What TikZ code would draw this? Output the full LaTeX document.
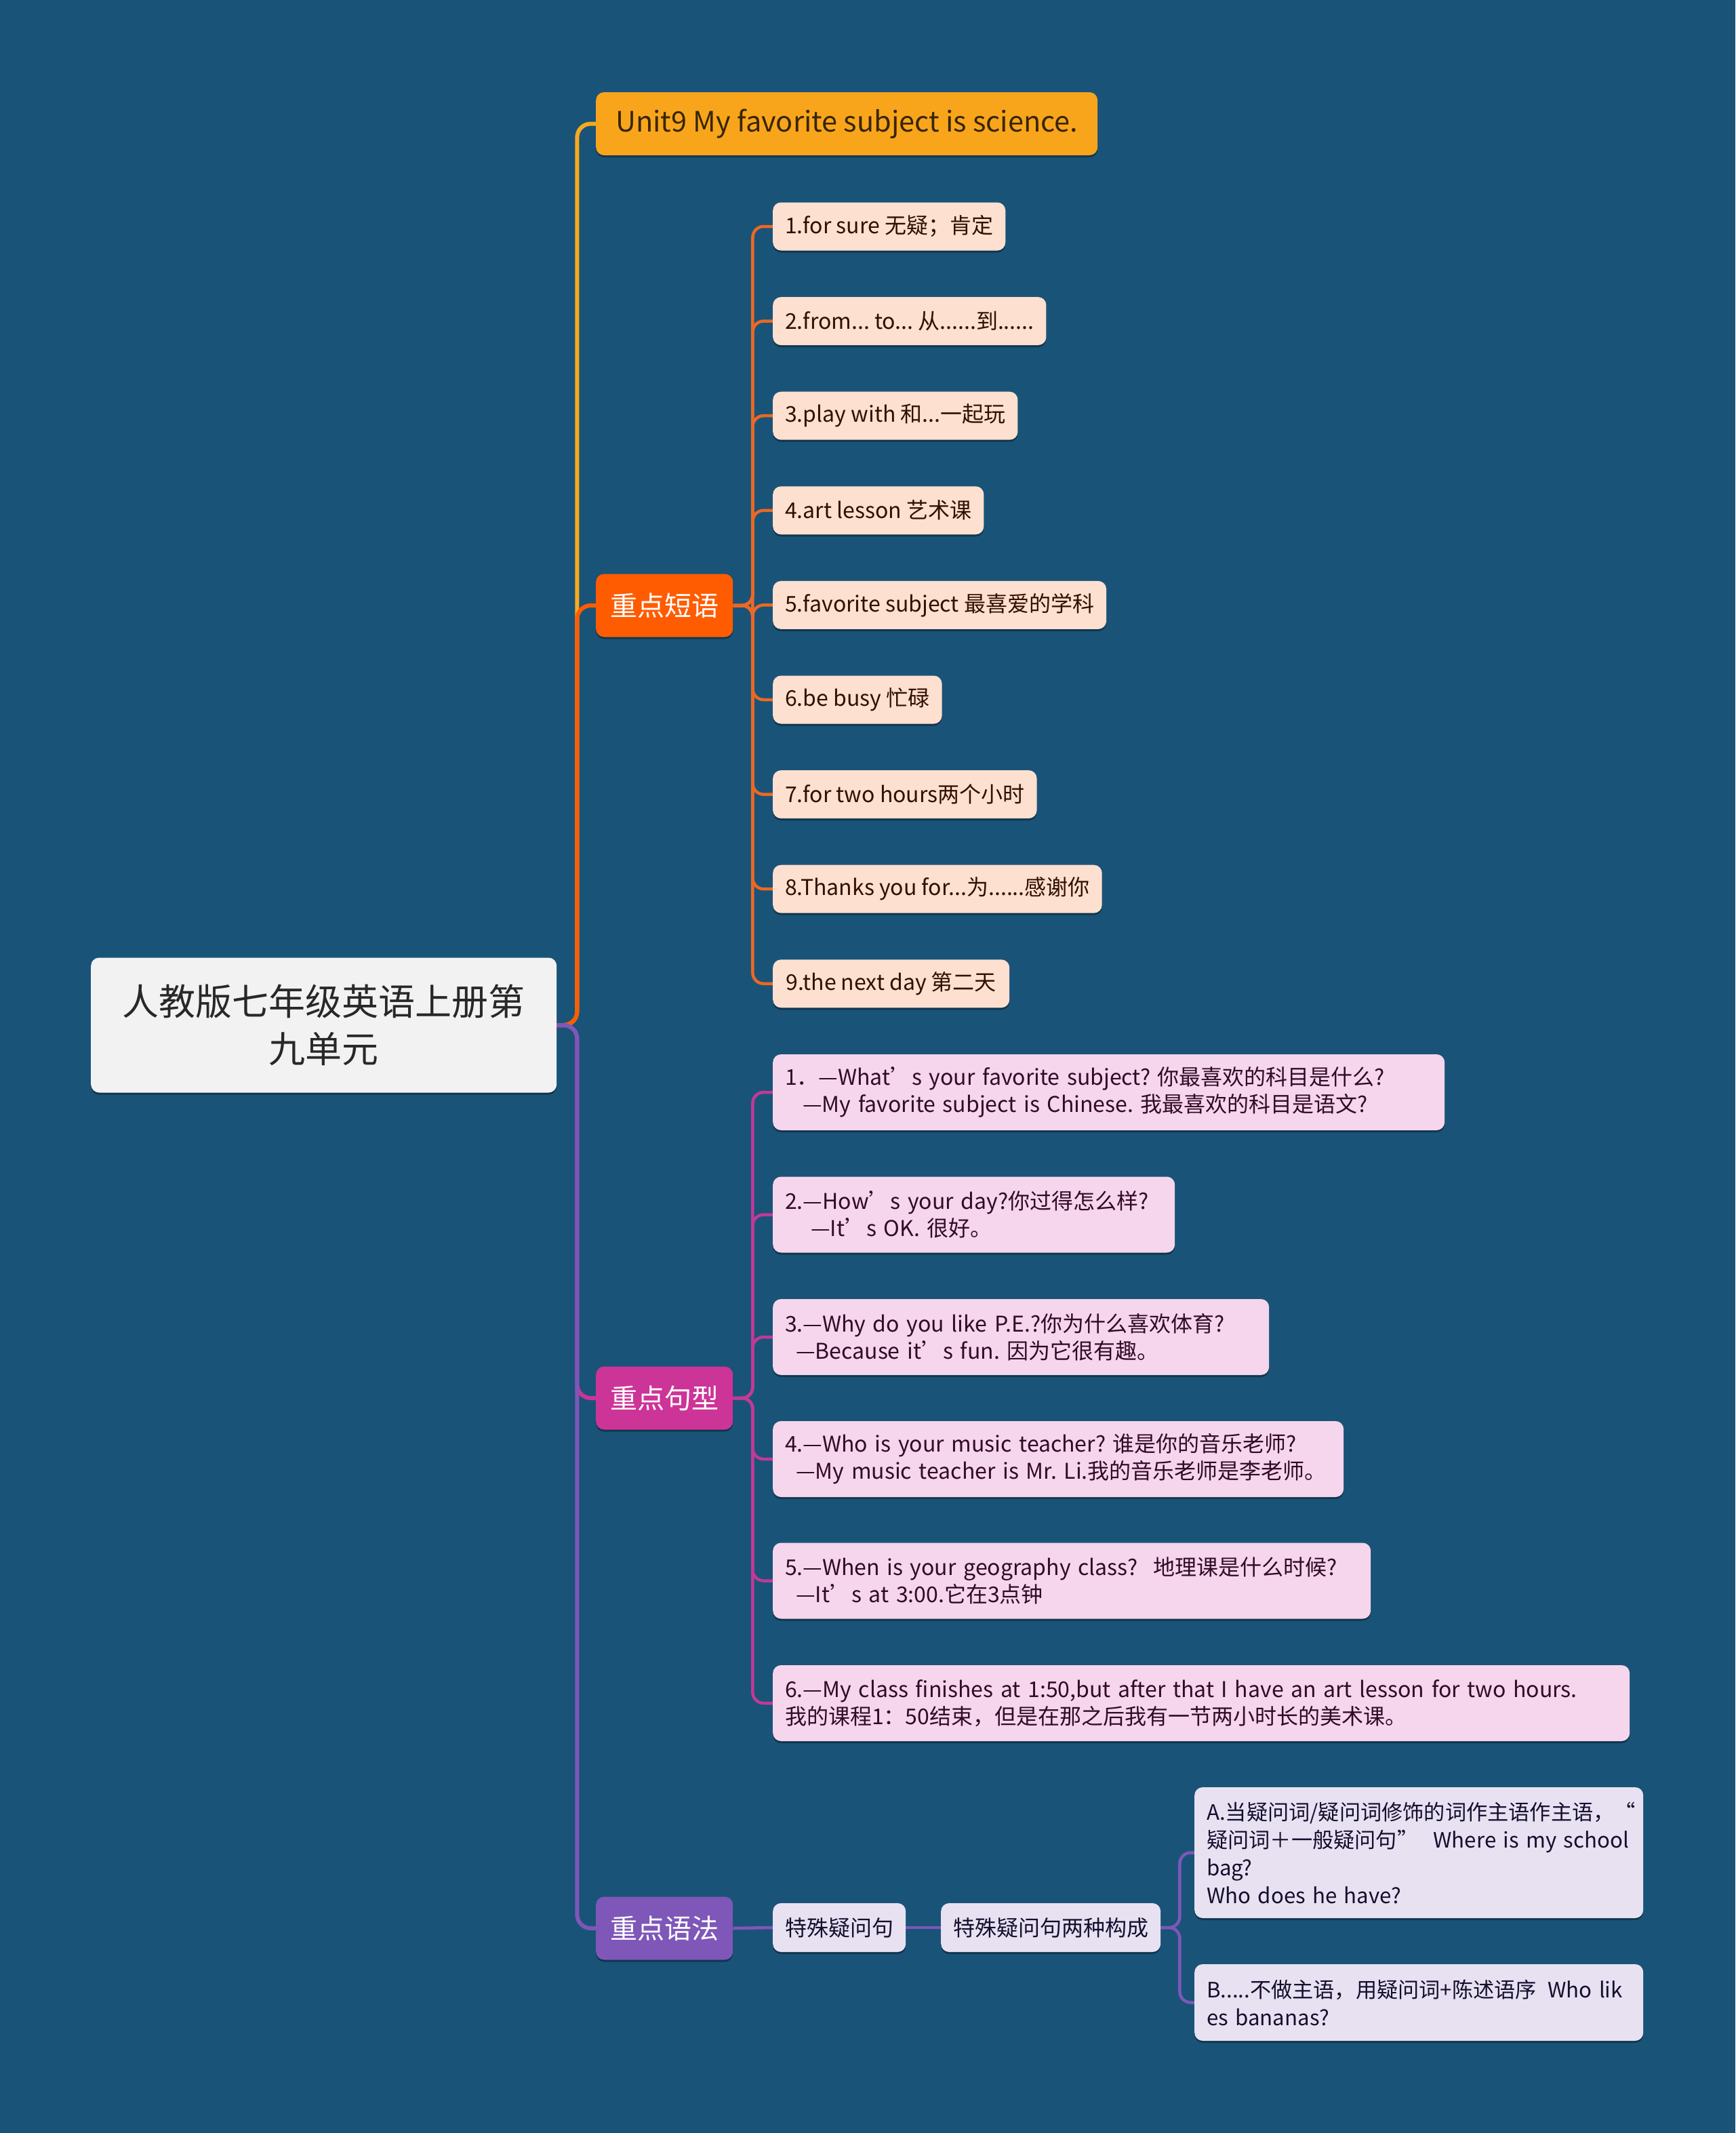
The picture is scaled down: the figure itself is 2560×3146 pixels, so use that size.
\documentclass[tikz,border=0pt]{standalone}
\usepackage{fontspec}
\setmainfont{Noto Sans CJK SC}
\usetikzlibrary{backgrounds,shadows}
\frenchspacing
\definecolor{bg}{RGB}{26,83,120}
\definecolor{rootfill}{RGB}{242,242,242}
\definecolor{roottext}{RGB}{40,40,40}
\definecolor{u9fill}{RGB}{249,165,28}
\definecolor{u9text}{RGB}{55,38,5}
\definecolor{dlfill}{RGB}{255,92,1}
\definecolor{jxfill}{RGB}{205,52,152}
\definecolor{yffill}{RGB}{126,87,184}
\definecolor{pfill}{RGB}{253,224,208}
\definecolor{ptext}{RGB}{50,15,0}
\definecolor{sfill}{RGB}{245,214,236}
\definecolor{stext}{RGB}{50,10,40}
\definecolor{gfill}{RGB}{232,225,242}
\definecolor{gtext}{RGB}{20,15,45}
\definecolor{c9col}{RGB}{246,170,30}
\definecolor{cdlcol}{RGB}{255,92,0}
\definecolor{cpcol}{RGB}{236,104,36}
\definecolor{cjxcol}{RGB}{205,52,152}
\definecolor{cscol}{RGB}{192,58,150}
\definecolor{cgcol}{RGB}{126,87,184}
\tikzset{
  box/.style={rounded corners=12pt, inner xsep=18pt, inner ysep=0pt, anchor=west, align=left,
    drop shadow={shadow xshift=0pt, shadow yshift=-3pt, opacity=0.35, fill=black}},
  rootbox/.style={box, fill=rootfill, text=roottext, align=center,
    font=\fontsize{54}{70}\selectfont, minimum width=687pt, minimum height=199pt},
  topbox/.style={box, fill=u9fill, text=u9text, font=\fontsize{41.5}{50}\selectfont,
    minimum width=740pt, minimum height=93pt},
  mainbox/.style={box, text=white, font=\fontsize{40}{50}\selectfont,
    minimum width=202pt, minimum height=93pt},
  pbox/.style={box, fill=pfill, text=ptext, font=\fontsize{32}{40}\selectfont, minimum height=71pt},
  sbox/.style={box, fill=sfill, text=stext, font=\fontsize{32}{40}\selectfont\frenchspacing, minimum height=112pt},
  gbox/.style={box, fill=gfill, text=gtext, font=\fontsize{32}{41}\selectfont\frenchspacing, minimum height=72pt},
  mainline/.style={line width=6pt, rounded corners=20pt},
  subline/.style={line width=4.5pt, rounded corners=16pt},
}
\begin{document}
\begin{tikzpicture}[x=1pt,y=-1pt]
\useasboundingbox (0,0) rectangle (2560,3146);
% root
\node[rootbox] (root) at (134,1512) {人教版七年级英语上册第\\九单元};
% level 1
\node[topbox] (u9) at (879,182.5) {Unit9 My favorite subject is science.};
\node[mainbox, fill=dlfill] (dl) at (879,893) {重点短语};
\node[mainbox, fill=jxfill] (jx) at (879,2062) {重点句型};
\node[mainbox, fill=yffill] (yf) at (879,2844) {重点语法};
% phrases
\node[pbox, minimum width=341pt] (p1) at (1140,334) {1.for sure 无疑；肯定};
\node[pbox, minimum width=397pt] (p2) at (1140,473.6) {2.from... to... 从......到......};
\node[pbox, minimum width=355pt] (p3) at (1140,613.2) {3.play with 和...一起玩};
\node[pbox, minimum width=307pt] (p4) at (1140,752.8) {4.art lesson 艺术课};
\node[pbox, minimum width=489pt] (p5) at (1140,892.4) {5.favorite subject 最喜爱的学科};
\node[pbox, minimum width=248pt] (p6) at (1140,1032) {6.be busy 忙碌};
\node[pbox, minimum width=389pt] (p7) at (1140,1171.6) {7.for two hours两个小时};
\node[pbox, minimum width=485pt] (p8) at (1140,1311.2) {8.Thanks you for...为......感谢你};
\node[pbox, minimum width=349pt] (p9) at (1140,1450.8) {9.the next day 第二天};
% sentences
\node[sbox, text width=955pt] (s1) at (1140,1611) {1．—What’s your favorite subject? 你最喜欢的科目是什么?\\\hspace*{26pt}—My favorite subject is Chinese. 我最喜欢的科目是语文?};
\node[sbox, text width=557pt] (s2) at (1140,1791.5) {2.—How’s your day?你过得怎么样?\\\hspace*{38pt}—It’s OK. 很好。};
\node[sbox, text width=696pt] (s3) at (1140,1972) {3.—Why do you like P.E.?你为什么喜欢体育?\\\hspace*{16pt}—Because it’s fun. 因为它很有趣。};
\node[sbox, text width=806pt] (s4) at (1140,2152) {4.—Who is your music teacher? 谁是你的音乐老师?\\\hspace*{16pt}—My music teacher is Mr. Li.我的音乐老师是李老师。};
\node[sbox, text width=846pt] (s5) at (1140,2331.5) {5.—When is your geography class?\hspace{12pt} 地理课是什么时候?\\\hspace*{16pt}—It’s at 3:00.它在3点钟};
\node[sbox, text width=1228pt] (s6) at (1140,2512) {6.—My class finishes at 1:50,but after that I have an art lesson for two hours.\\我的课程1：50结束，但是在那之后我有一节两小时长的美术课。};
% grammar
\node[gbox, minimum width=188pt] (g1) at (1140,2843) {特殊疑问句};
\node[gbox, minimum width=315pt] (g2) at (1388,2843) {特殊疑问句两种构成};
\node[gbox, text width=626pt, minimum height=193pt, font=\fontsize{31.2}{41}\selectfont] (ga) at (1762,2732.5) {\mbox{A.当疑问词/疑问词修饰的词作主语作主语，“}\\\mbox{疑问词＋一般疑问句”\hspace{12pt} Where is my school}\\bag?\\Who does he have?};
\node[gbox, text width=626pt, minimum height=113pt, font=\fontsize{31.2}{41}\selectfont] (gb) at (1762,2953.5) {\mbox{B.....不做主语，用疑问词+陈述语序\hspace{6pt} Who lik}\\es bananas?};
% connectors
\begin{scope}[on background layer]
\fill[bg] (0,0) rectangle (2560,3146);
\draw[mainline, c9col] (root.east) -- ++(30,0) |- (u9.west);
\draw[mainline, cdlcol] (root.east) -- ++(30,0) |- (dl.west);
\draw[mainline, cjxcol] (root.east) -- ++(30,0) |- (jx.west);
\draw[mainline, cgcol] (root.east) -- ++(30,0) |- (yf.west);
\foreach \i in {1,...,9} \draw[subline, cpcol] (dl.east) -- ++(29,0) |- (p\i.west);
\foreach \i in {1,...,6} \draw[subline, cscol] (jx.east) -- ++(29,0) |- (s\i.west);
\draw[subline, cgcol] (yf.east) -- (g1.west);
\draw[subline, cgcol] (g1.east) -- (g2.west);
\draw[subline, cgcol] (g2.east) -- ++(28,0) |- (ga.west);
\draw[subline, cgcol] (g2.east) -- ++(28,0) |- (gb.west);
\end{scope}
\end{tikzpicture}
\end{document}
